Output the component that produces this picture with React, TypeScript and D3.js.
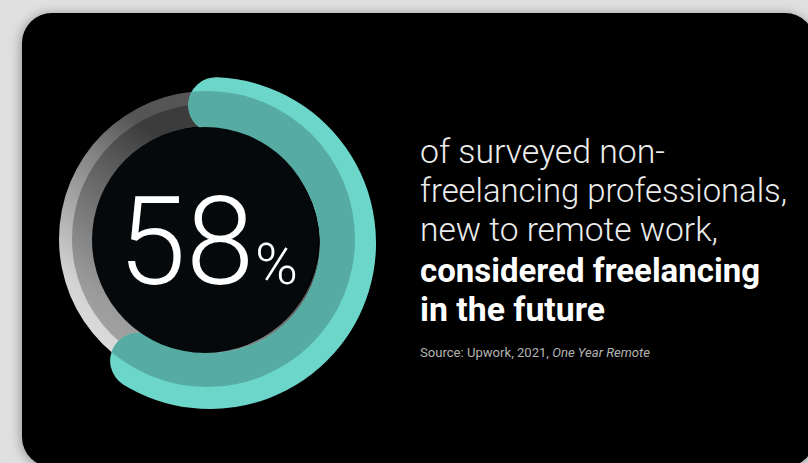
import React from "react";
import * as d3 from "d3";

// ---- data ----
const shareValues = [58];
const shareLabels = ["58", "%"];
const bodyLines = [
  "of surveyed non-",
  "freelancing professionals,",
  "new to remote work,",
];
const boldLines = ["considered freelancing", "in the future"];
const sourceParts = ["Source: Upwork, 2021, ", "One Year Remote"];

const W = 808;
const H = 463;

export default function App() {
  const cx = 210, cy = 243; // teal arc center
  const gx = 207, gy = 239; // gray ring center
  const rMid = 138, thick = 56;
  const startDeg = 2.6;
  const angle = d3
    .scaleLinear()
    .domain([0, 100])
    .range([(startDeg * Math.PI) / 180, (startDeg * Math.PI) / 180 + 2 * Math.PI]);

  const a0 = angle(0) - Math.PI / 2;
  const a1 = angle(shareValues[0]) - Math.PI / 2;
  const p = d3.path();
  p.moveTo(cx + rMid * Math.cos(a0), cy + rMid * Math.sin(a0));
  p.arc(cx, cy, rMid, a0, a1, false);
  const arcD = p.toString();

  const ringOuter = d3.arc()({ innerRadius: 113, outerRadius: 148, startAngle: 0, endAngle: 2 * Math.PI }) as string;
  const ringInner = d3.arc()({ innerRadius: 113, outerRadius: 135, startAngle: 0, endAngle: 2 * Math.PI }) as string;

  const lineY = d3.scaleLinear().domain([0, 1]).range([163, 202]);

  return (
    <div style={{ position: "absolute", left: 0, top: 0 }}>
      <svg width={W} height={H} style={{ display: "block" }}>
        <defs>
          <filter id="sh" x="-10%" y="-10%" width="120%" height="120%">
            <feDropShadow dx="-1" dy="1" stdDeviation="6" floodColor="#000" floodOpacity="0.35" />
          </filter>
          <linearGradient id="gOut" gradientUnits="userSpaceOnUse" x1={70} y1={320} x2={230} y2={92}>
            <stop offset="0" stopColor="#f0f0f0" />
            <stop offset="0.4" stopColor="#d2d2d2" />
            <stop offset="0.8" stopColor="#858585" />
            <stop offset="1" stopColor="#555555" />
          </linearGradient>
          <linearGradient id="gIn" gradientUnits="userSpaceOnUse" x1={70} y1={320} x2={230} y2={92}>
            <stop offset="0" stopColor="#b4b4b4" />
            <stop offset="0.4" stopColor="#9c9c9c" />
            <stop offset="0.8" stopColor="#5e5e5e" />
            <stop offset="1" stopColor="#3c3c3c" />
          </linearGradient>
          <clipPath id="ringClip">
            <circle cx={gx} cy={gy} r={148} />
          </clipPath>
        </defs>
        <rect x={0} y={0} width={W} height={H} fill="#e0e0e0" />
        <rect x={22} y={13} width={793} height={454} rx={30} fill="#000" filter="url(#sh)" />

        <path d={ringOuter} transform={`translate(${gx},${gy})`} fill="url(#gOut)" />
        <path d={ringInner} transform={`translate(${gx},${gy})`} fill="url(#gIn)" />

        <path d={arcD} fill="none" stroke="#6dd6ca" strokeWidth={thick} strokeLinecap="round" />
        <path d={arcD} fill="none" stroke="#56aba3" strokeWidth={thick} strokeLinecap="round" clipPath="url(#ringClip)" />

        <circle cx={205} cy={240} r={113} fill="#05090b" />

        <text x={118} y={284} fill="#fff" fontFamily="Roboto, 'Open Sans', sans-serif" fontWeight={300} fontSize={122} textLength={136} lengthAdjust="spacingAndGlyphs">
          {shareLabels[0]}
        </text>
        <text x={255} y={284} fill="#fff" fontFamily="Roboto, 'Open Sans', sans-serif" fontWeight={300} fontSize={58} textLength={43} lengthAdjust="spacingAndGlyphs">
          {shareLabels[1]}
        </text>

        {bodyLines.map((t, i) => (
          <text key={t} x={420} y={lineY(i)} fill="#ececec" fontFamily="Roboto, sans-serif" fontWeight={300} fontSize={33}
            textLength={[245, 367, 298][i]} lengthAdjust="spacingAndGlyphs">
            {t}
          </text>
        ))}
        {boldLines.map((t, i) => (
          <text key={t} x={420} y={lineY(3 + i) + 2} fill="#fff" fontFamily="Roboto, sans-serif" fontWeight={700} fontSize={33}
            textLength={[340, 185][i]} lengthAdjust="spacingAndGlyphs">
            {t}
          </text>
        ))}
        <text x={420} y={357} fill="#b4b4b4" fontFamily="Roboto, sans-serif" fontSize={12} textLength={230} lengthAdjust="spacingAndGlyphs">
          {sourceParts[0]}
          <tspan fontStyle="italic">{sourceParts[1]}</tspan>
        </text>
      </svg>
    </div>
  );
}
